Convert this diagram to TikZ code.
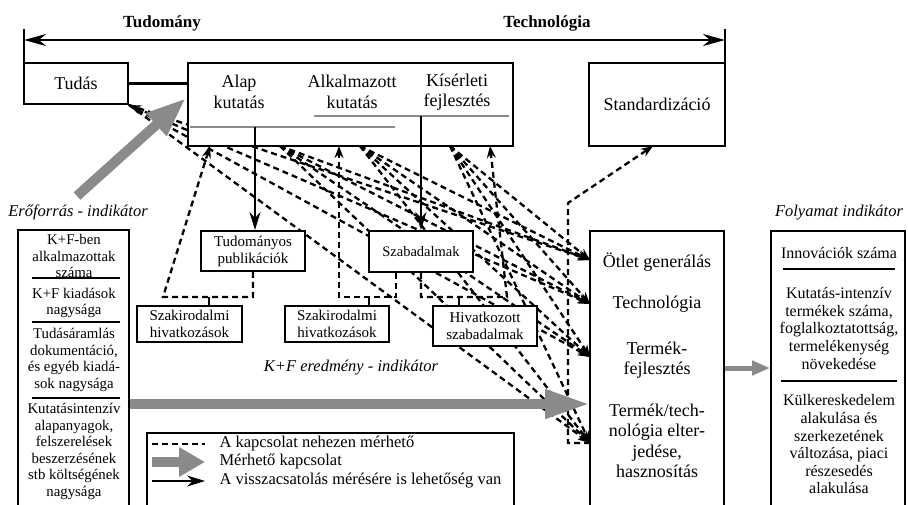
\documentclass[tikz,border=0pt]{standalone}
\usepackage{fontspec}
\setmainfont{Liberation Serif}
\usetikzlibrary{arrows.meta,backgrounds}

\definecolor{szurke}{RGB}{138,138,138}

\tikzset{
  doboz/.style={draw, line width=1.9pt, fill=white, inner sep=0pt, align=center},
  nagybetu/.style={font=\fontsize{18}{20.5}\selectfont, align=center},
  kozepbetu/.style={font=\fontsize{15}{17}\selectfont, align=center},
  oszlopbetu/.style={font=\fontsize{14.8}{16.6}\selectfont, align=center},
  jobbbetu/.style={font=\fontsize{16}{17.6}\selectfont, align=center},
  jelbetu/.style={font=\fontsize{16.5}{17}\selectfont, anchor=west},
  cimke/.style={font=\fontsize{16.5}{18}\selectfont\itshape},
  fejlec/.style={font=\fontsize{17}{19}\selectfont\bfseries},
  szagg/.style={line width=2.3pt, dash pattern=on 6pt off 4pt},
  szaggnyil/.style={szagg, -{Stealth[length=12pt,width=9pt]}},
  teli/.style={line width=2.2pt, -{Stealth[length=18pt,width=11pt]}},
  elvalaszto/.style={line width=1.1pt},
  szurkenyil/.style={draw=szurke, line width=10pt, -{Triangle[length=40pt,width=28pt]}},
  kisszurke/.style={draw=szurke, line width=5pt, -{Triangle[length=18pt,width=14pt]}},
}

\begin{document}
\begin{tikzpicture}[x=1pt, y=-1pt]
\useasboundingbox (0,0) rectangle (908,504);

% tengely
\node[fejlec] (tud) at (162,23) {Tudomány};
\node[fejlec] (tech) at (547,23) {Technológia};
\coordinate (tengbal) at (24,40);
\coordinate (tengjobb) at (725,40);
\draw[line width=2.4pt, {Stealth[length=22pt,width=12pt]}-{Stealth[length=22pt,width=12pt]}] (tengbal) -- (tengjobb);
\draw[line width=1.5pt] (tengbal) ++(0,-11) -- ++(0,33); % bal jel
\draw[line width=1.5pt] (tengjobb) ++(0,-11) -- ++(0,33); % jobb jel

% felso sor
\node[doboz, nagybetu, minimum width=104pt, minimum height=41pt] (tudas) at (76,83.5) {Tudás};
\node[doboz, minimum width=325pt, minimum height=83pt] (kutatas) at (350.5,104.5) {};
\node[nagybetu] (alap) at (239,92) {Alap\\kutatás};
\node[nagybetu] (alkalm) at (352,92) {Alkalmazott\\kutatás};
\node[nagybetu] (kiserl) at (457,92) {Kísérleti\\fejlesztés};
\node[doboz, nagybetu, minimum width=136pt, minimum height=83pt] (stand) at (657,104.5) {Standardizáció};
\draw[line width=2.4pt] (tudas.east) -- (tudas.east -| kutatas.west);
\draw[szurke, line width=1.1pt] (314,116) -- (509,116); % also vonal 1
\draw[szurke, line width=1.1pt] (190,127) -- (395,127); % also vonal 2
\coordinate (alapki) at (255,127);
\coordinate (kiserlki) at (421,116);

% kozepso dobozok
\node[doboz, kozepbetu, minimum width=104pt, minimum height=40pt] (pub) at (253,251) {Tudományos\\publikációk};
\node[doboz, font=\fontsize{14.5}{17}\selectfont, minimum width=104pt, minimum height=41pt] (szab) at (421,251.5) {Szabadalmak};
\node[doboz, kozepbetu, minimum width=105pt, minimum height=36pt] (szak1) at (189.5,324) {Szakirodalmi\\hivatkozások};
\node[doboz, kozepbetu, minimum width=104pt, minimum height=36pt] (szak2) at (337,324) {Szakirodalmi\\hivatkozások};
\node[doboz, kozepbetu, minimum width=104pt, minimum height=40pt] (hivszab) at (485,326) {Hivatkozott\\szabadalmak};
\draw[teli] (alapki) -- (alapki |- pub.north);
\draw[teli] (kiserlki) -- (kiserlki |- szab.north);

% kimenet
\node[doboz, minimum width=134pt, minimum height=281pt] (kimenet) at (657,371.5) {};
\node[nagybetu] (otlet) at (657,262) {Ötlet generálás};
\node[nagybetu] (techn) at (657,304) {Technológia};
\node[nagybetu] (termek) at (657,360) {Termék-\\fejlesztés};
\node[nagybetu] (elterj) at (657,441) {Termék/tech-\\nológia elter-\\jedése,\\hasznosítás};

% eroforras oszlop
\node[doboz, minimum width=111pt, minimum height=282pt] (eroforras) at (73.5,371) {};
\node[oszlopbetu] (ero1) at (74,256) {K+F-ben\\alkalmazottak\\száma};
\node[oszlopbetu] (ero2) at (74,303) {K+F kiadások\\nagysága};
\node[oszlopbetu] (ero3) at (74,360) {Tudásáramlás\\dokumentáció,\\és egyéb kiadá-\\sok nagysága};
\node[oszlopbetu] (ero4) at (74,451.5) {Kutatásintenzív\\alapanyagok,\\felszerelések\\beszerzésének\\stb költségének\\nagysága};
\draw[elvalaszto] (32,278) -- (120,278);
\draw[elvalaszto] (32,322) -- (120,322);
\draw[elvalaszto] (32,398) -- (120,398);

% folyamat oszlop
\node[doboz, minimum width=134pt, minimum height=281pt] (folyamat) at (838,371.5) {};
\node[jobbbetu] (foly1) at (839,253) {Innovációk száma};
\node[jobbbetu] (foly2) at (839,328.5) {Kutatás-intenzív\\termékek száma,\\foglalkoztatottság,\\termelékenység\\növekedése};
\node[jobbbetu] (foly3) at (839,444.5) {Külkereskedelem\\alakulása és\\szerkezetének\\változása, piaci\\részesedés\\alakulása};
\draw[elvalaszto] (783,269) -- (895,269);
\draw[elvalaszto] (781,381) -- (897,381);

% cimkek
\node[cimke] (erocimke) at (78,212) {Erőforrás - indikátor};
\node[cimke] (folycimke) at (839,213) {Folyamat indikátor};
\node[cimke] (eredcimke) at (351,368) {K+F eredmény - indikátor};

% jelmagyarazat
\node[draw, line width=2.8pt, fill=white, minimum width=367pt, minimum height=79pt, inner sep=0pt] (jelmagy) at (330.5,472.5) {};
\coordinate (j1) at (152,444);
\coordinate (j2) at (152,462);
\coordinate (j3) at (152,481);
\draw[szagg] (j1) -- ++(53,0);
\draw[draw=szurke, line width=10pt, -{Triangle[length=26pt,width=28pt]}] (j2) -- ++(53,0);
\draw[teli] (j3) -- ++(53,0);
\node[jelbetu] (jt1) at (216,444) {A kapcsolat nehezen mérhető};
\node[jelbetu] (jt2) at (216,462) {Mérhető kapcsolat};
\node[jelbetu] (jt3) at (216,481) {A visszacsatolás mérésére is lehetőség van};

% szurke nyilak
\coordinate (erotol) at (77,196);
\coordinate (kutbal) at (186,98);
\coordinate (kimnyil) at (590,404);
\draw[szurkenyil] (erotol) -- (kutbal);
\draw[draw=szurke, line width=10pt, -{Triangle[length=45pt,width=27pt]}] (eroforras.east |- kimnyil) -- (kimnyil);
\draw[kisszurke] (kimenet.east |- 0,368) -- (folyamat.west |- 0,368);

% szaggatott kapcsolatok
\coordinate (cel1) at (590,260);
\coordinate (cel2) at (590,304);
\coordinate (cel3) at (590,357);
\coordinate (cel4) at (590,443);
\coordinate (forras1) at (280,146);
\coordinate (forras2) at (360,146);
\coordinate (forras3) at (450,146);
\coordinate (pubsarok) at (163,297);
\coordinate (alapbe) at (210,146);
\coordinate (szabsarok1) at (339,297);
\coordinate (alkbe) at (339,146);
\coordinate (szabsarok2) at (507,297);
\coordinate (kisbe) at (490,146);
\coordinate (fordulo) at (568,203);
\coordinate (standbe) at (653,146);
\coordinate (csonk1) at (209,297);
\coordinate (csonk2) at (369,297);
\coordinate (csonk3) at (459,297);
\begin{scope}[on background layer]
\foreach \c in {cel1,cel3,cel4}
  \draw[szaggnyil] (tudas.south east) -- (\c);
\draw[szagg, {Stealth[length=12pt,width=9pt]}-{Stealth[length=12pt,width=9pt]}] (tudas.south east) -- (cel2);
\foreach \f in {forras1,forras2,forras3}
  \foreach \c in {cel1,cel2,cel3,cel4}
    \draw[szaggnyil] (\f) -- (\c);
\draw[szaggnyil] (pub.south) |- (pubsarok) -- (alapbe);
\draw[szaggnyil] ([xshift=-25pt]szab.south) |- (szabsarok1) -- (alkbe);
\draw[szaggnyil] (szab.south) |- (szabsarok2) -- (kisbe);
\draw[szaggnyil] (cel4) -| (fordulo) -- (standbe);
\end{scope}
\draw[line width=2.4pt] (csonk1) -- (csonk1 |- szak1.north);
\draw[line width=2.4pt] (csonk2) -- (csonk2 |- szak2.north);
\draw[line width=2.4pt] (csonk3) -- (csonk3 |- hivszab.north);

\end{tikzpicture}
\end{document}
